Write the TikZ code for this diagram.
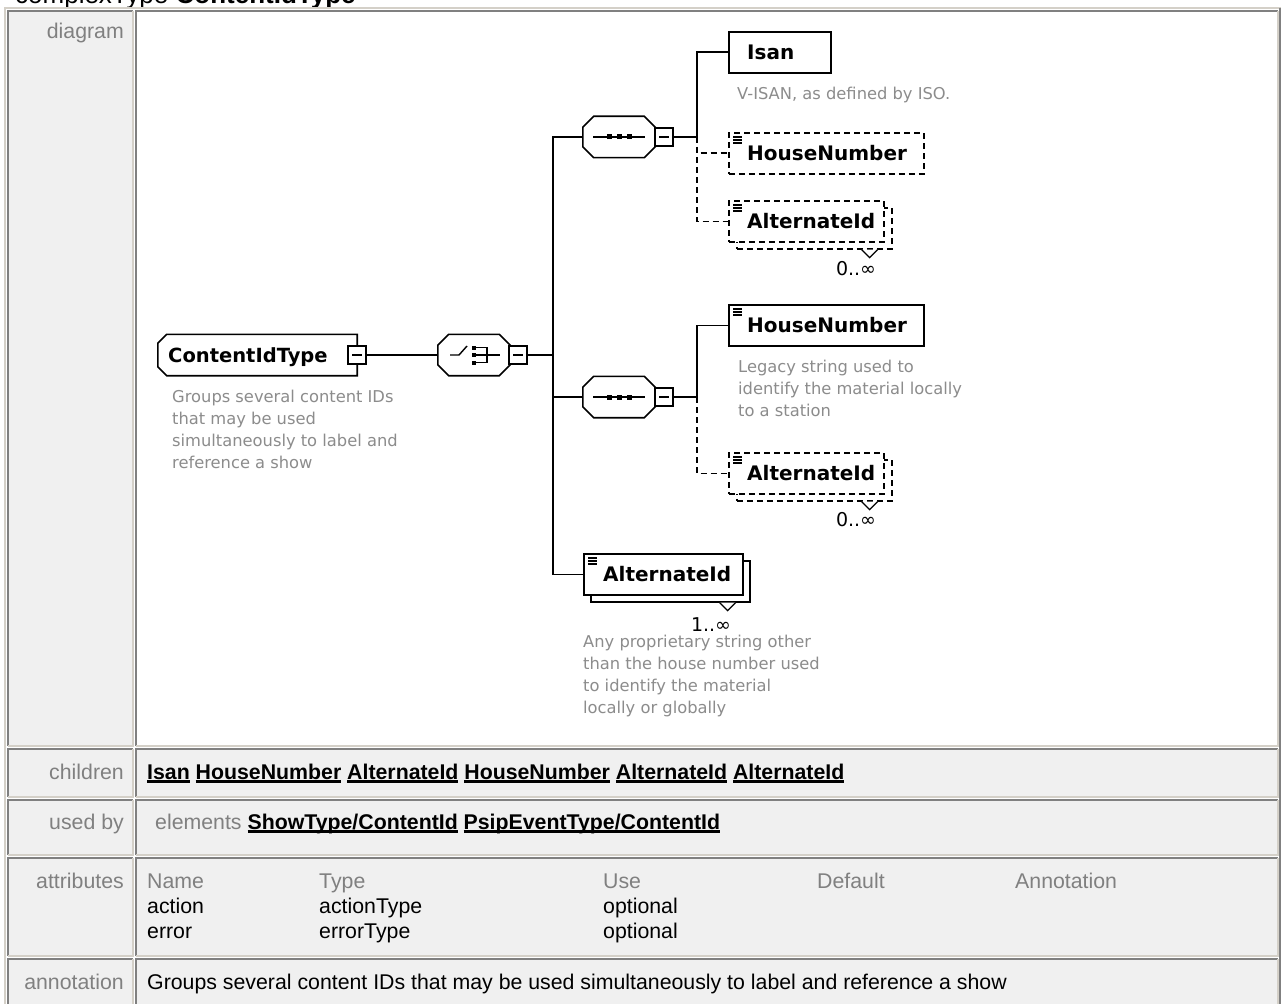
\documentclass[tikz,border=0pt]{standalone}
\usepackage{fontspec}
\setmainfont{Liberation Sans}
\newfontfamily\dgfont{DejaVu Sans}
\usetikzlibrary{calc}

\definecolor{cellbg}{RGB}{240,240,240}
\definecolor{edgedark}{RGB}{128,128,128}
\definecolor{edgelight}{RGB}{212,208,200}
\definecolor{labelgray}{RGB}{128,128,128}
\definecolor{descgray}{RGB}{140,140,140}
\definecolor{shadowgray}{RGB}{200,200,200}

\pgfdeclarelayer{shadows}
\pgfsetlayers{shadows,main}

% one table cell: dark edge on top/left, light edge on bottom/right
\newcommand\tablecell[5][cellbg]{%
  \fill[#1] (#2,#3) rectangle (#4,#5);
  \draw[edgedark,line width=2pt] (#2,#5) -- (#2,#3) -- (#4,#3);
  \draw[edgelight,line width=2pt] (#4,#3) -- (#4,#5) -- (#2,#5);}

% bold link with a heavy underline
\newsavebox\linkbox
\newcommand\ulink[1]{\sbox\linkbox{#1}\rlap{\rule[-3.5pt]{\wd\linkbox}{2.2pt}}\usebox\linkbox}

% outline of a holder node with cut corners: options, node, left cut, right cut
\newcommand\cutbox[4]{%
  \path[#1] ([xshift=#3]#2.north west) -- ([xshift=-#4]#2.north east)
    -- ([yshift=-#4]#2.north east) -- ([yshift=#4]#2.south east)
    -- ([xshift=-#4]#2.south east) -- ([xshift=#3]#2.south west)
    -- ([yshift=#3]#2.south west) -- ([yshift=-#3]#2.north west) -- cycle;}

\tikzset{
  conn/.style={line width=1.6pt},
  optline/.style={conn, dash pattern=on 6pt off 4pt},
  elembox/.style={draw, fill=white, line width=1.6pt, minimum height=41pt, inner sep=0pt, anchor=north west},
  optbox/.style={elembox, dash pattern=on 6pt off 4pt},
  holder/.style={minimum width=72pt, minimum height=41pt, inner sep=0pt},
  outline/.style={draw, fill=white, line width=1.6pt},
  minusbox/.style={draw, fill=white, line width=1.4pt, minimum size=18pt, inner sep=0pt,
    path picture={\draw[line width=1.4pt] ([xshift=4pt]path picture bounding box.west) -- ([xshift=-4pt]path picture bounding box.east);}},
  icon/.style={line width=1.4pt},
  ename/.style={font=\dgfont\bfseries\fontsize{20}{24}\selectfont, inner sep=0pt, anchor=base west},
  desc/.style={font=\dgfont\fontsize{16.3}{22}\selectfont, text=descgray, inner sep=0pt, anchor=north west, align=left},
  mult/.style={font=\dgfont\fontsize{19}{22}\selectfont, inner sep=0pt},
  rowlabel/.style={font=\fontsize{21.3}{26}\selectfont, text=labelgray, inner sep=0pt, anchor=base east},
  celltext/.style={font=\fontsize{21.3}{26}\selectfont, inner sep=0pt, anchor=base west},
  headtext/.style={celltext, text=labelgray},
}

\begin{document}
\begin{tikzpicture}[x=1pt,y=-1pt]
\useasboundingbox (0,0) rectangle (1281,1003);
\fill[white] (0,0) rectangle (1281,1003);

% page heading, mostly above the visible area
\node[anchor=base west, inner sep=0pt, font=\fontsize{26}{30}\selectfont] (heading) at (15,4) {complexType \textbf{ContentIdType}};

% table frame and cells
\draw[edgelight, line width=2pt] (5,1010) -- (5,8) -- (1281,8);
\draw[edgedark, line width=2pt] (1280,8) -- (1280,1010);
\tablecell{8}{11}{133}{746}
\tablecell[white]{136}{11}{1278}{746}
\tablecell{8}{749}{133}{797}
\tablecell{136}{749}{1278}{797}
\tablecell{8}{800}{133}{855}
\tablecell{136}{800}{1278}{855}
\tablecell{8}{858}{133}{956}
\tablecell{136}{858}{1278}{956}
\tablecell{8}{959}{133}{1012}
\tablecell{136}{959}{1278}{1012}

% row labels
\node[rowlabel] (lblDiagram) at (124,39) {diagram};
\node[rowlabel] (lblChildren) at (124,779) {children};
\node[rowlabel] (lblUsedBy) at (124,829) {used by};
\node[rowlabel] (lblAttributes) at (124,888) {attributes};
\node[rowlabel] (lblAnnotation) at (124,989) {annotation};

% row contents
\node[celltext] (childList) at (147,779) {\bfseries\ulink{Isan} \ulink{HouseNumber} \ulink{AlternateId} \ulink{HouseNumber} \ulink{AlternateId} \ulink{AlternateId}};
\node[celltext] (usedList) at (155,829) {\textcolor{labelgray}{elements} \bfseries\ulink{ShowType/ContentId} \ulink{PsipEventType/ContentId}};
\node[headtext] (hName) at (147,888) {Name};
\node[headtext] (hType) at (319,888) {Type};
\node[headtext] (hUse) at (603,888) {Use};
\node[headtext] (hDefault) at (817,888) {Default};
\node[headtext] (hAnno) at (1015,888) {Annotation};
\node[celltext] (aName1) at (147,913) {action};
\node[celltext] (aType1) at (319,913) {actionType};
\node[celltext] (aUse1) at (603,913) {optional};
\node[celltext] (aName2) at (147,938) {error};
\node[celltext] (aType2) at (319,938) {errorType};
\node[celltext] (aUse2) at (603,938) {optional};
\node[celltext] (annoText) at (147,989) {Groups several content IDs that may be used simultaneously to label and reference a show};

% ---- schema diagram ----
% compositor and type holders
\node[holder, minimum width=199pt] (ctype) at (257.5,355) {};
\node[holder] (choice) at (474,355) {};
\node[holder] (seqA) at (619,137) {};
\node[holder] (seqB) at (619,397) {};
\cutbox{outline}{ctype}{9pt}{0pt}
\cutbox{outline}{choice}{11pt}{11pt}
\cutbox{outline}{seqA}{11pt}{11pt}
\cutbox{outline}{seqB}{11pt}{11pt}
\node[minusbox] (ctypeM) at (357,355) {};
\node[minusbox] (choiceM) at (518,355) {};
\node[minusbox] (seqAM) at (664,137) {};
\node[minusbox] (seqBM) at (664,397) {};

% element boxes (stacked ones: back copy first)
\node[elembox, minimum width=102pt] (isan) at (728,31) {};
\node[optbox, minimum width=195pt] (hnA) at (728,132) {};
\node[optbox, minimum width=155pt] (altAback) at (736,207) {};
\node[optbox, minimum width=155pt] (altA) at (728,200) {};
\node[elembox, minimum width=195pt] (hnB) at (728,304) {};
\node[optbox, minimum width=155pt] (altBback) at (736,459) {};
\node[optbox, minimum width=155pt] (altB) at (728,452) {};
\node[elembox, minimum width=159pt] (altCback) at (590,560) {};
\node[elembox, minimum width=159pt] (altC) at (583,553) {};

% drop shadows
\begin{pgfonlayer}{shadows}
\begin{scope}[transform canvas={xshift=8pt,yshift=-8pt}]
  \cutbox{fill=shadowgray}{ctype}{9pt}{0pt}
  \cutbox{fill=shadowgray}{choice}{11pt}{11pt}
  \cutbox{fill=shadowgray}{seqA}{11pt}{11pt}
  \cutbox{fill=shadowgray}{seqB}{11pt}{11pt}
  \foreach \n in {isan,hnA,altAback,hnB,altBback,altCback}
    \fill[shadowgray] (\n.north west) rectangle (\n.south east);
\end{scope}
\end{pgfonlayer}

% connectors
\coordinate (fork) at (553,355);
\coordinate (forkA) at (697,137);
\coordinate (forkB) at (697,397);
\draw[conn] (ctypeM.east) -- (choice.west);
\draw[conn] (choiceM.east) -- (fork);
\draw[conn] (seqA.west) -| (fork) |- (altC.west);
\draw[conn] (fork |- seqB.west) -- (seqB.west);
\draw[conn] (seqAM.east) -- (forkA) |- (isan.west);
\draw[optline] (forkA) |- (hnA.west);
\draw[optline] (forkA) |- (altA.west);
\draw[conn] (seqBM.east) -- (forkB) |- (hnB.west);
\draw[optline] (forkB) |- (altB.west);

% sequence icons
\foreach \s in {seqA,seqB}{
  \draw[icon] ($(\s.center)+(-26,0)$) -- ++(52,0);
  \foreach \dx in {-10,0,10}
    \fill ($(\s.center)+(\dx-2.5,-2.5)$) rectangle ++(5,5);
}
% choice icon
\draw[icon] ($(choice.center)+(-24,0)$) -- ++(9,0) -- ++(8,-9);
\foreach \dy in {-7.5,0,7.5}
  \fill ($(choice.center)+(-2,\dy-2)$) rectangle ++(4,4);
\draw[icon] ($(choice.center)+(2,-7.5)$) -- ++(11,0) -- ++(0,15) -- ++(-11,0);
\draw[icon] ($(choice.center)+(2,0)$) -- ++(24,0);

% simple-content markers
\foreach \e in {hnA,altA,hnB,altB,altC}
  \foreach \dy in {5,8,11}
    \draw[line width=1.1pt] ($(\e.north west)+(5,\dy)$) -- ++(9,0);

% repeat markers
\foreach \b in {altAback,altBback,altCback}
  \draw[line width=1.3pt, fill=white] ($(\b.south east)+(-31,0)$) -- ++(8,8) -- ++(8,-8);

% names
\node[ename, font=\dgfont\bfseries\fontsize{19.5}{24}\selectfont] (ctypeT) at (168,362) {ContentIdType};
\node[ename] (isanT) at ($(isan.west)+(19,7)$) {Isan};
\node[ename] (hnAT) at ($(hnA.west)+(19,7)$) {HouseNumber};
\node[ename] (altAT) at ($(altA.west)+(19,7)$) {AlternateId};
\node[ename] (hnBT) at ($(hnB.west)+(19,7)$) {HouseNumber};
\node[ename] (altBT) at ($(altB.west)+(19,7)$) {AlternateId};
\node[ename] (altCT) at ($(altC.west)+(20,7)$) {AlternateId};

% occurrence ranges
\node[mult] (altAm) at (856,269) {0..∞};
\node[mult] (altBm) at (856,520) {0..∞};
\node[mult] (altCm) at (711,625) {1..∞};

% documentation texts
\node[desc] (ctypeD) at (172,390) {Groups several content IDs\\that may be used\\simultaneously to label and\\reference a show};
\node[desc] (isanD) at (737,87) {V-ISAN, as defined by ISO.};
\node[desc] (hnBD) at (738,360) {Legacy string used to\\identify the material locally\\to a station};
\node[desc] (altCD) at (583,635) {Any proprietary string other\\than the house number used\\to identify the material\\locally or globally};
\end{tikzpicture}
\end{document}
